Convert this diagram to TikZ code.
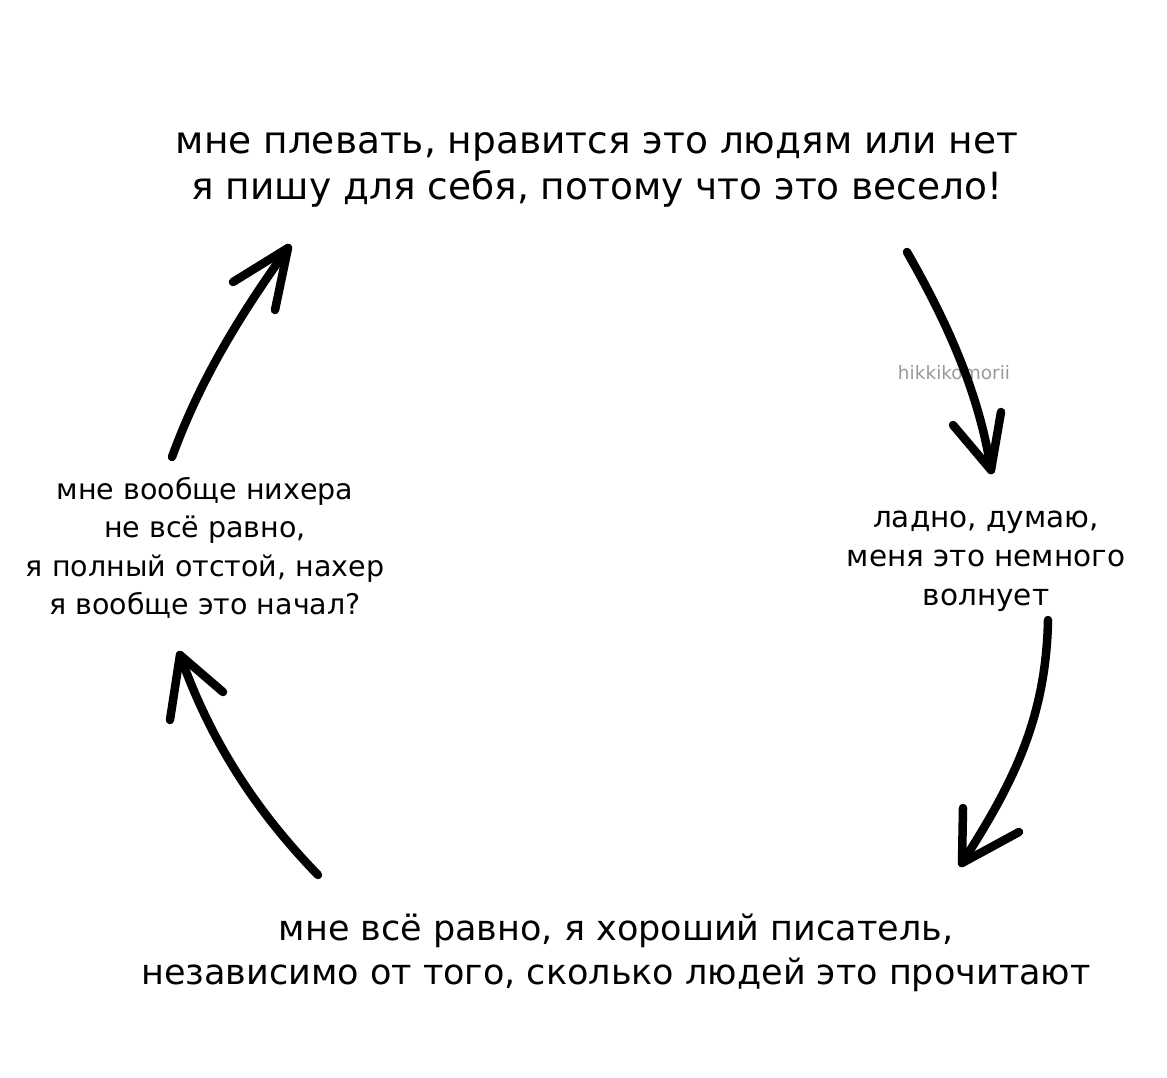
\documentclass[tikz,border=0pt]{standalone}
\usepackage{fontspec}
\setmainfont{DejaVu Sans}
\begin{document}
\begin{tikzpicture}[x=1pt,y=-1pt,
  txt/.style={align=center, inner sep=0pt, text=black},
  topfont/.style={txt, font=\fontsize{37.5}{46}\selectfont},
  botfont/.style={txt, font=\fontsize{35}{44}\selectfont},
  leftfont/.style={txt, font=\fontsize{28.5}{38.5}\selectfont},
  rightfont/.style={txt, font=\fontsize{29.5}{39}\selectfont},
  stroke/.style={line width=8.5pt, line cap=round, line join=round, black},
  wm/.style={inner sep=0pt, text=black!40, font=\fontsize{18.5}{20}\selectfont}]
\useasboundingbox[fill=white] (0,0) rectangle (1167,1078);

\node[topfont] (top) at (597,170) {мне плевать, нравится это людям или нет\\я пишу для себя, потому что это весело!};
\node[rightfont] (right) at (986,561) {ладно, думаю,\\меня это немного\\волнует};
\node[botfont] (bottom) at (616,953) {мне всё равно, я хороший писатель,\\независимо от того, сколько людей это прочитают};
\node[leftfont] (left) at (205,548) {мне вообще нихера\\не всё равно,\\я полный отстой, нахер\\я вообще это начал?};
\node[wm] (mark) at (954,373) {hikkikomorii};

% arrow 1: top -> right
\coordinate (a1s) at (907,252);
\coordinate (a1t) at (991,470);
\draw[stroke] (a1s) .. controls (940,310) and (978,385) .. (a1t);
\draw[stroke] (953,425) -- (a1t) -- (1001,412);

% arrow 2: right -> bottom
\coordinate (a2s) at (1048,620);
\coordinate (a2t) at (962,863);
\draw[stroke] (a2s) .. controls (1046,720) and (1012,785) .. (a2t);
\draw[stroke] (963,808) -- (a2t) -- (1019,832);

% arrow 3: bottom -> left
\coordinate (a3s) at (318,875);
\coordinate (a3t) at (180,655);
\draw[stroke] (a3s) .. controls (255,810) and (210,740) .. (a3t);
\draw[stroke] (170,720) -- (a3t) -- (223,692);

% arrow 4: left -> top
\coordinate (a4s) at (172,457);
\coordinate (a4t) at (288,248);
\draw[stroke] (a4s) .. controls (200,380) and (240,315) .. (a4t);
\draw[stroke] (233,282) -- (a4t) -- (275,310);
\end{tikzpicture}
\end{document}
